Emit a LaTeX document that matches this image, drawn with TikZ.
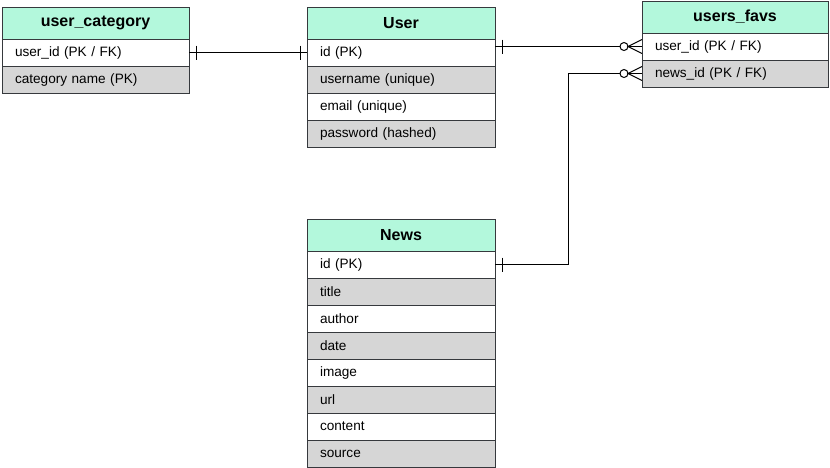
\documentclass[tikz,border=0pt]{standalone}
\usepackage{fontspec}
\setmainfont{Liberation Sans}
\usetikzlibrary{calc}
\definecolor{bordc}{HTML}{36393D}
\definecolor{hdrc}{HTML}{B3F8DC}
\definecolor{grayc}{HTML}{D6D6D6}
\tikzset{
  hdr/.style={draw=bordc, fill=hdrc, line width=1pt, anchor=north west, inner sep=0pt, outer sep=0pt,
    minimum height=32pt, font=\bfseries\fontsize{16}{19}\selectfont},
  rowbox/.style={draw=bordc, fill=white, line width=1pt, anchor=north west, inner xsep=13pt, inner ysep=0pt, outer sep=0pt,
    minimum height=27pt, align=left, font=\fontsize{13.6}{16}\selectfont},
  grayrow/.style={rowbox, fill=grayc},
  conn/.style={draw=black, line width=1pt},
}
\begin{document}
\begin{tikzpicture}[x=1pt,y=-1pt]
\useasboundingbox (0,0) rectangle (830,467);
% user_category
\node[hdr, minimum width=187pt] (uch) at (2,7) {user\_category};
\node[rowbox, text width=161pt] (uc1) at (uch.south west) {user\_id (PK / FK)};
\node[grayrow, text width=161pt] (uc2) at (uc1.south west) {category name (PK)};
% User
\node[hdr, minimum width=188pt] (uh) at (307,7) {User};
\node[rowbox, text width=162pt] (u1) at (uh.south west) {id (PK)};
\node[grayrow, text width=162pt] (u2) at (u1.south west) {username (unique)};
\node[rowbox, text width=162pt] (u3) at (u2.south west) {email (unique)};
\node[grayrow, text width=162pt] (u4) at (u3.south west) {password (hashed)};
% users_favs
\node[hdr, minimum width=186pt] (ufh) at (642,1) {users\_favs};
\node[rowbox, text width=160pt] (uf1) at (ufh.south west) {user\_id (PK / FK)};
\node[grayrow, text width=160pt] (uf2) at (uf1.south west) {news\_id (PK / FK)};
% News
\node[hdr, minimum width=188pt] (nh) at (307,219) {News};
\node[rowbox, text width=162pt] (n1) at (nh.south west) {id (PK)};
\node[grayrow, text width=162pt] (n2) at (n1.south west) {title};
\node[rowbox, text width=162pt] (n3) at (n2.south west) {author};
\node[grayrow, text width=162pt] (n4) at (n3.south west) {date};
\node[rowbox, text width=162pt] (n5) at (n4.south west) {image};
\node[grayrow, text width=162pt] (n6) at (n5.south west) {url};
\node[rowbox, text width=162pt] (n7) at (n6.south west) {content};
\node[grayrow, text width=162pt] (n8) at (n7.south west) {source};
% connector user_category -- User
\draw[conn] (uc1.east) -- (u1.west);
\draw[conn] ($(uc1.east)+(7,-7)$) -- ++(0,14);
\draw[conn] ($(u1.west)+(-7,-7)$) -- ++(0,14);
% connector User -- users_favs
\coordinate (ua) at (uf1.west -| u1.east);
\draw[conn] (ua) -- ($(uf1.west)+(-22,0)$);
\draw[conn] ($(ua)+(7,-7)$) -- ++(0,14);
\draw[conn] ($(uf1.west)+(-18,0)$) circle (4);
\draw[conn] ($(uf1.west)+(-14,0)$) -- (uf1.west);
\draw[conn] ($(uf1.west)+(0,-7)$) -- ($(uf1.west)+(-14,0)$) -- ($(uf1.west)+(0,7)$);
% connector News -- users_favs
\draw[conn] (n1.east) -- ++(73,0) |- ($(uf2.west)+(-22,0)$);
\draw[conn] ($(n1.east)+(7,-7)$) -- ++(0,14);
\draw[conn] ($(uf2.west)+(-18,0)$) circle (4);
\draw[conn] ($(uf2.west)+(-14,0)$) -- (uf2.west);
\draw[conn] ($(uf2.west)+(0,-7)$) -- ($(uf2.west)+(-14,0)$) -- ($(uf2.west)+(0,7)$);
\end{tikzpicture}
\end{document}
